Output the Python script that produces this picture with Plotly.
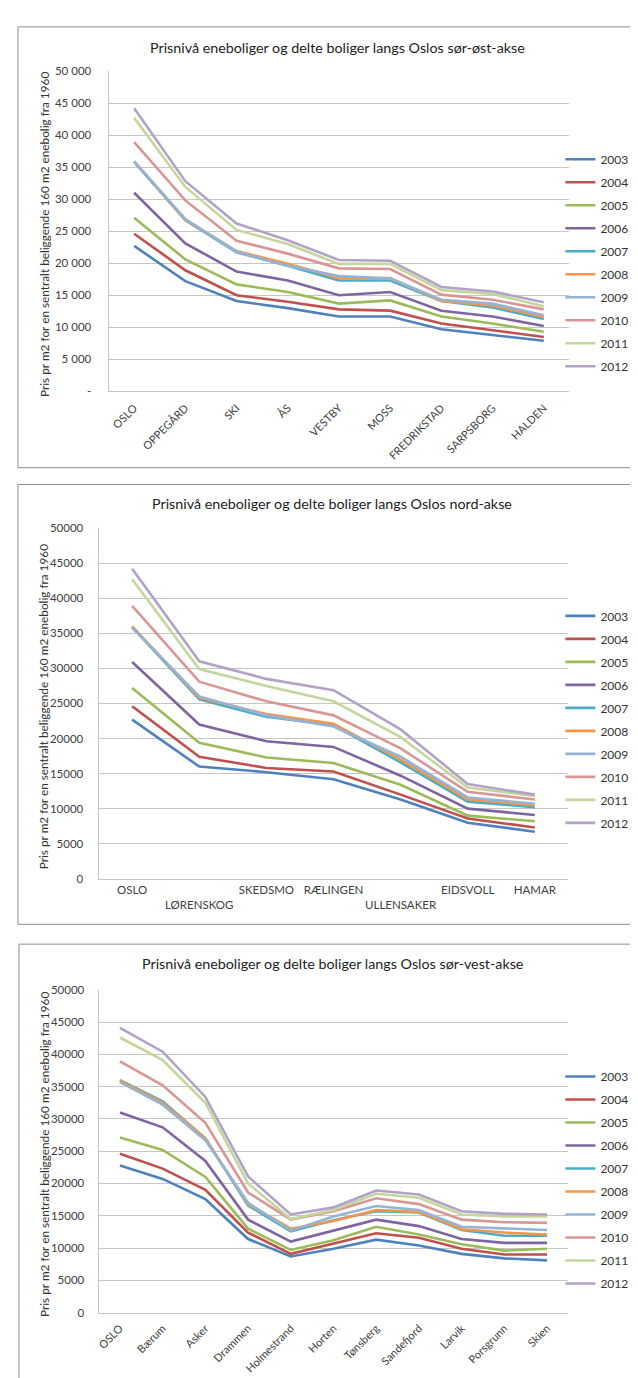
import plotly.graph_objects as go

# ---------------- data ----------------
years = ["2003", "2004", "2005", "2006", "2007", "2008", "2009", "2010", "2011", "2012"]
colors = ["#4F81BD", "#C0504D", "#9BBB59", "#8064A2", "#4BACC6",
          "#F79646", "#95B3D7", "#D99694", "#C3D69B", "#B3A2C7"]

# Chart 1: sør-øst-akse
cats_se = ["OSLO", "OPPEGÅRD", "SKI", "ÅS", "VESTBY", "MOSS", "FREDRIKSTAD", "SARPSBORG", "HALDEN"]
se_values = {
    "2003": [22700, 17200, 14100, 13000, 11700, 11700, 9700, 8800, 7900],
    "2004": [24600, 18900, 15000, 14000, 12800, 12600, 10600, 9500, 8500],
    "2005": [27100, 20600, 16700, 15500, 13700, 14200, 11700, 10600, 9300],
    "2006": [31000, 23100, 18700, 17300, 15000, 15500, 12600, 11700, 10200],
    "2007": [35800, 26700, 21700, 19600, 17300, 17300, 14100, 13100, 11300],
    "2008": [35900, 26800, 21900, 19900, 17700, 17700, 14100, 13400, 11600],
    "2009": [35900, 26900, 21800, 19600, 18000, 17600, 14300, 13700, 11900],
    "2010": [38900, 29800, 23500, 21500, 19200, 19100, 15100, 14300, 12800],
    "2011": [42700, 31900, 25200, 23000, 19900, 19900, 15800, 15200, 13300],
    "2012": [44200, 32800, 26200, 23600, 20500, 20400, 16300, 15600, 13900],
}
yt_se = [0, 5000, 10000, 15000, 20000, 25000, 30000, 35000, 40000, 45000, 50000]
yl_se = ["-", "5 000", "10 000", "15 000", "20 000", "25 000", "30 000", "35 000", "40 000", "45 000", "50 000"]

# Chart 2: nord-akse
cats_n = ["OSLO", "LØRENSKOG", "SKEDSMO", "RÆLINGEN", "ULLENSAKER", "EIDSVOLL", "HAMAR"]
cats_n_row = [1, 2, 1, 1, 2, 1, 1]  # label row (Excel staggered labels)
n_values = {
    "2003": [22700, 16000, 15200, 14200, 11300, 8000, 6700],
    "2004": [24600, 17400, 15800, 15300, 12000, 8600, 7300],
    "2005": [27200, 19400, 17300, 16500, 13400, 9000, 8200],
    "2006": [30900, 22000, 19600, 18800, 14700, 10000, 9100],
    "2007": [35900, 25600, 23100, 21900, 16600, 11000, 10200],
    "2008": [36000, 25800, 23500, 22100, 17000, 11300, 10500],
    "2009": [35800, 26000, 23300, 21700, 17400, 11600, 10700],
    "2010": [38900, 28100, 25300, 23300, 18600, 12400, 11300],
    "2011": [42700, 29900, 27500, 25300, 20200, 13000, 11800],
    "2012": [44200, 31000, 28500, 26900, 21300, 13500, 12000],
}
yt_n = [0, 5000, 10000, 15000, 20000, 25000, 30000, 35000, 40000, 45000, 50000]
yl_n = [str(v) for v in yt_n]

# Chart 3: sør-vest-akse
cats_sv = ["OSLO", "Bærum", "Asker", "Drammen", "Holmestrand", "Horten",
           "Tønsberg", "Sandefjord", "Larvik", "Porsgrunn", "Skien"]
sv_values = {
    "2003": [22800, 20700, 17600, 11400, 8700, 9900, 11300, 10400, 9100, 8400, 8100],
    "2004": [24600, 22300, 19000, 12400, 9100, 10700, 12300, 11600, 9900, 9000, 9000],
    "2005": [27100, 25200, 21000, 13000, 9700, 11200, 13300, 12100, 10600, 9600, 9900],
    "2006": [31000, 28700, 23500, 14400, 11000, 12700, 14400, 13400, 11400, 10800, 10800],
    "2007": [36000, 32700, 27000, 16600, 12600, 14300, 15700, 15500, 12800, 11900, 11900],
    "2008": [35900, 32500, 27000, 16800, 13000, 14200, 15900, 15600, 12900, 12400, 12100],
    "2009": [35700, 32200, 26700, 17000, 12700, 14900, 16500, 15900, 13300, 13000, 12800],
    "2010": [38900, 35200, 29400, 18600, 14400, 15700, 17700, 16800, 14400, 14000, 13900],
    "2011": [42600, 39100, 32500, 20000, 14500, 15900, 18400, 17800, 15200, 14900, 14900],
    "2012": [44100, 40400, 33400, 21100, 15200, 16300, 18900, 18300, 15700, 15300, 15200],
}
yt_sv = [0, 5000, 10000, 15000, 20000, 25000, 30000, 35000, 40000, 45000, 50000]
yl_sv = [str(v) for v in yt_sv]

titles = [
    "Prisnivå eneboliger og delte boliger langs Oslos sør-øst-akse",
    "Prisnivå eneboliger og delte boliger langs Oslos nord-akse",
    "Prisnivå eneboliger og delte boliger langs Oslos sør-vest-akse",
]
ytitle = "Pris pr m2 for en sentralt beliggende 160 m2 enebolig fra 1960"

# ---------------- layout helpers ----------------
W, H = 638, 1378
FONT = "Lato, Carlito, 'Open Sans', sans-serif"
TXT = "#404040"
GRID = "#C6C6C6"


def fx(px):
    return px / W


def fy(py):
    return 1 - py / H


fig = go.Figure()

charts = [
    dict(cats=cats_se, vals=se_values, xa="x", ya="y", leg="legend"),
    dict(cats=cats_n, vals=n_values, xa="x2", ya="y2", leg="legend2"),
    dict(cats=cats_sv, vals=sv_values, xa="x3", ya="y3", leg="legend3"),
]

for ch in charts:
    for yr, col in zip(years, colors):
        fig.add_trace(go.Scatter(
            x=ch["cats"], y=ch["vals"][yr], name=yr, mode="lines",
            line=dict(color=col, width=2.6),
            xaxis=ch["xa"], yaxis=ch["ya"], legend=ch["leg"],
            legendgroup=ch["leg"] + yr, showlegend=True,
            hovertemplate="%{x}: %{y}<extra>" + yr + "</extra>",
        ))

# pixel geometry of the three plot areas: (left, right, top, bottom)
geo = [
    (98, 561, 56.5, 380),
    (88, 560, 518, 872),
    (88, 560, 984, 1310),
]
boxes = [(7, 12, 457), (7, 474, 918), (8, 938, 1380)]
legend_tops = [131, 592, 1057]
title_y = [33, 493, 958]
ystandoff = [14, 12, 11]
xstandoff = [5, 0, 4]

ticktext_n = [("<br>" + c) if r == 2 else c for c, r in zip(cats_n, cats_n_row)]

axis_common = dict(showgrid=False, showline=True, linecolor=GRID, linewidth=1,
                   ticks="", zeroline=False)

layout = dict(
    width=W, height=H, margin=dict(l=0, r=0, t=0, b=0),
    paper_bgcolor="white", plot_bgcolor="white",
    font=dict(family=FONT, color=TXT),
    hovermode="closest",
)

xdefs = [
    dict(type="category", range=[-0.5, len(cats_se) - 0.5], tickangle=-45,
         tickfont=dict(size=11, color=TXT, family=FONT)),
    dict(type="category", range=[-0.5, len(cats_n) - 0.5], tickangle=0,
         tickvals=cats_n, ticktext=ticktext_n,
         tickfont=dict(size=11.5, color=TXT, family=FONT)),
    dict(type="category", range=[-0.5, len(cats_sv) - 0.5], tickangle=-45,
         tickfont=dict(size=11, color=TXT, family=FONT)),
]
ydefs = [(yt_se, yl_se), (yt_n, yl_n), (yt_sv, yl_sv)]
suffix = ["", "2", "3"]

for i in range(3):
    l, r, t, b = geo[i]
    xd = dict(axis_common)
    xd.update(domain=[fx(l), fx(r)], anchor="y" + suffix[i], ticklabelstandoff=xstandoff[i])
    xd.update(xdefs[i])
    layout["xaxis" + suffix[i]] = xd
    yd = dict(axis_common)
    yd.update(domain=[fy(b), fy(t)], anchor="x" + suffix[i], range=[0, 50000],
              tickvals=ydefs[i][0], ticktext=ydefs[i][1], showgrid=True,
              gridcolor=GRID, gridwidth=1, ticklabelstandoff=ystandoff[i],
              tickfont=dict(size=11.5, color=TXT, family=FONT))
    layout["yaxis" + suffix[i]] = yd
    layout["legend" + suffix[i]] = dict(
        x=fx(552), y=fy(legend_tops[i]), xanchor="left", yanchor="top",
        tracegroupgap=4, bgcolor="rgba(0,0,0,0)",
        font=dict(size=12, color="#333333", family=FONT),
    )

fig.update_layout(**layout)

shapes = []
annotations = []
for i in range(3):
    l, r, t, b = geo[i]
    bx, by0, by1 = boxes[i]
    shapes.append(dict(type="rect", xref="paper", yref="paper",
                       x0=fx(bx), x1=fx(W + 5), y0=fy(by1), y1=fy(by0),
                       line=dict(color="#8E8E8E", width=1), fillcolor="rgba(0,0,0,0)",
                       layer="below"))
    annotations.append(dict(text=titles[i], xref="paper", yref="paper",
                            x=fx((l + r) / 2 - 1), y=fy(title_y[i]),
                            xanchor="center", yanchor="middle", showarrow=False,
                            font=dict(size=14.3, color="#222222", family=FONT)))
    annotations.append(dict(text=ytitle, xref="paper", yref="paper",
                            x=fx(33), y=fy((t + b) / 2 + 3), textangle=-90,
                            xanchor="center", yanchor="middle", showarrow=False,
                            font=dict(size=11.8, color="#333333", family=FONT)))

fig.update_layout(shapes=shapes, annotations=annotations)

fig.write_html("out.html")
